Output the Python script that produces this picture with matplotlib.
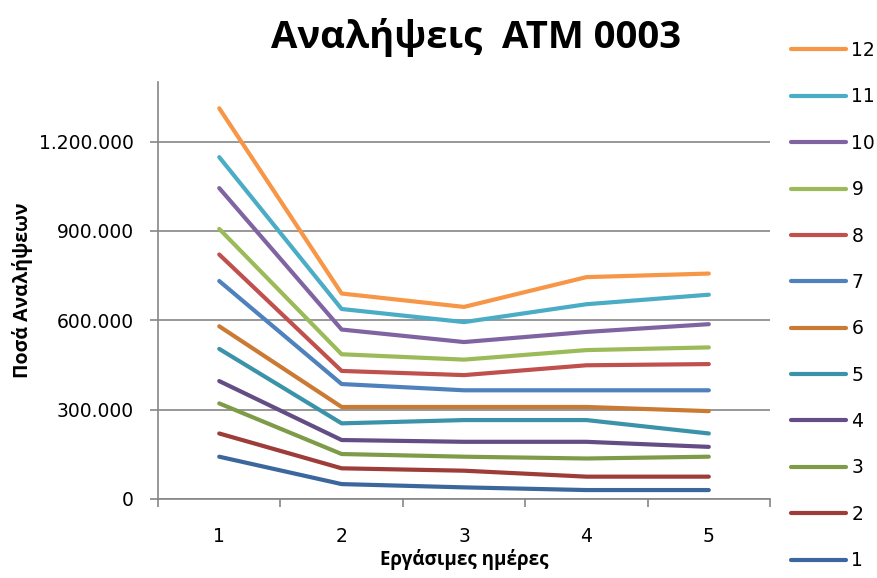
import matplotlib
matplotlib.use("Agg")
import matplotlib.pyplot as plt
from matplotlib.ticker import FuncFormatter, FixedLocator

plt.rcParams['font.family'] = ['Open Sans', 'DejaVu Sans']

# Working days on the x axis, one series per month
days = [1, 2, 3, 4, 5]
series_names = ['1', '2', '3', '4', '5', '6', '7', '8', '9', '10', '11', '12']

s1 = [142000, 50000, 39000, 30000, 30000]
s2 = [220000, 103000, 95000, 75000, 75000]
s3 = [321000, 151000, 142000, 136000, 142000]
s4 = [396000, 198000, 192000, 192000, 175000]
s5 = [504000, 254000, 265000, 265000, 220000]
s6 = [580000, 309000, 309000, 309000, 295000]
s7 = [732000, 386000, 365000, 365000, 365000]
s8 = [821000, 430000, 416000, 449000, 453000]
s9 = [907000, 486000, 468000, 500000, 509000]
s10 = [1044000, 569000, 527000, 561000, 587000]
s11 = [1148000, 638000, 594000, 654000, 686000]
s12 = [1312000, 690000, 645000, 745000, 757000]
values = [s1, s2, s3, s4, s5, s6, s7, s8, s9, s10, s11, s12]

colors = ['#3C679C', '#9E3C39', '#7E9C48', '#644C84', '#3A93A8', '#CB7A33',
          '#4F81BD', '#C0504D', '#9BBB59', '#8064A2', '#4BACC6', '#F79646']

tick_font = ['DejaVu Sans']
fig = plt.figure(figsize=(8.77, 5.78), dpi=100)
ax = fig.add_axes([0.1802, 0.1367, 0.6978, 0.7213])

lines = []
for name, vals, c in zip(series_names, values, colors):
    ln, = ax.plot(days, vals, color=c, lw=3, solid_capstyle='round',
                  solid_joinstyle='round', label=name, zorder=3)
    lines.append(ln)

ax.set_xlim(0.5, 5.5)
ax.set_ylim(0, 1400000)
ax.set_xticks(days)
ax.xaxis.set_minor_locator(FixedLocator([0.5, 1.5, 2.5, 3.5, 4.5, 5.5]))
ax.tick_params(axis='x', which='major', length=0, pad=20)
ax.tick_params(axis='x', which='minor', length=5.5, width=1.2, color='#868686', direction='out')
ax.set_yticks([0, 300000, 600000, 900000, 1200000])
ax.yaxis.set_major_formatter(FuncFormatter(lambda v, p: f"{v:,.0f}".replace(',', '.')))
ax.tick_params(axis='y', length=5.5, width=1.2, color='#868686', direction='out', pad=12)
for lbl in ax.get_xticklabels() + ax.get_yticklabels():
    lbl.set_family(tick_font)
    lbl.set_fontsize(13.5)
ax.grid(axis='y', color='#868686', lw=1.2, zorder=1)

for side in ['top', 'right']:
    ax.spines[side].set_visible(False)
for side in ['left', 'bottom']:
    ax.spines[side].set_color('#868686')
    ax.spines[side].set_linewidth(1.2)

fig.text(0.543, 0.935, 'Αναλήψεις  ATM 0003', ha='center', va='center',
         fontsize=27.5, fontweight='bold')
ax.set_ylabel('Ποσά Αναλήψεων', fontsize=14, fontweight='bold', labelpad=4)
ax.set_xlabel('Εργάσιμες ημέρες', fontsize=13.5, fontweight='bold', labelpad=2)

fig.legend(lines[::-1], series_names[::-1], loc='upper left',
           bbox_to_anchor=(0.902, 0.929), frameon=False,
           prop={'family': tick_font, 'size': 13.5},
           handlelength=2.95, handletextpad=0.27, labelspacing=1.46,
           borderaxespad=0, borderpad=0)

fig.savefig('out.png', dpi=100)
